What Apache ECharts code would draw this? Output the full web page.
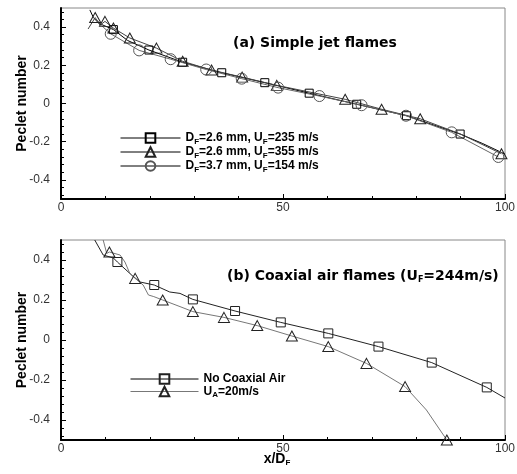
<!DOCTYPE html>
<html>
<head>
<meta charset="utf-8">
<script src="https://cdn.jsdelivr.net/npm/echarts@6/dist/echarts.min.js"></script>
<style>
  html, body { margin: 0; padding: 0; background: #fff; }
  #chart { width: 517px; height: 474px; }
</style>
</head>
<body>
<div id="chart"></div>
<script>
// points are [x/D_F, Peclet number]
// (a) simple jet flames
const jet235Curve = [[6.5, 0.49], [7.3, 0.45], [8.5, 0.42], [11.8, 0.387], [15, 0.33], [19.8, 0.28], [27.4, 0.216], [36.2, 0.161], [45.9, 0.109], [55.9, 0.054], [66.6, -0.004], [77.8, -0.064], [89.9, -0.16], [95, -0.21], [100, -0.265]]
const jet235Marks = [[11.8, 0.387], [19.8, 0.28], [27.4, 0.216], [36.2, 0.161], [45.9, 0.109], [55.9, 0.054], [66.6, -0.004], [77.8, -0.064], [89.9, -0.16]]

const jet355Curve = [[6.1, 0.39], [7.7, 0.45], [8.8, 0.41], [9.9, 0.43], [11.8, 0.395], [15.5, 0.343], [21.5, 0.29], [27.4, 0.221], [33.9, 0.175], [40.8, 0.138], [48.6, 0.095], [64, 0.022], [72.2, -0.03], [80.9, -0.08], [90, -0.16], [99.2, -0.263]]
const jet355Marks = [[7.7, 0.45], [9.9, 0.43], [11.8, 0.395], [15.5, 0.343], [21.5, 0.29], [27.4, 0.221], [33.9, 0.175], [40.8, 0.138], [48.6, 0.095], [64, 0.022], [72.2, -0.03], [80.9, -0.08], [99.2, -0.263]]

const jet154Curve = [[8, 0.44], [9.5, 0.4], [11.2, 0.365], [17.6, 0.278], [24.7, 0.232], [32.7, 0.178], [40.7, 0.13], [48.9, 0.083], [58.2, 0.039], [67.7, -0.009], [77.7, -0.064], [88, -0.151], [98.5, -0.28]]
const jet154Marks = [[11.2, 0.365], [17.6, 0.278], [24.7, 0.232], [32.7, 0.178], [40.7, 0.13], [48.9, 0.083], [58.2, 0.039], [67.7, -0.009], [77.7, -0.064], [88, -0.151], [98.5, -0.28]]

// (b) coaxial air flames
const noAirCurve = [[7.6, 0.5], [9.5, 0.425], [11.8, 0.41], [12.7, 0.39], [15.9, 0.325], [17.8, 0.29], [21, 0.275], [24.5, 0.24], [26.8, 0.233], [29.7, 0.203], [39.2, 0.145], [49.5, 0.088], [60.2, 0.033], [71.5, -0.033], [83.5, -0.113], [95.9, -0.237], [100, -0.29]]
const noAirMarks = [[12.7, 0.39], [21, 0.275], [29.7, 0.203], [39.2, 0.145], [49.5, 0.088], [60.2, 0.033], [71.5, -0.033], [83.5, -0.113], [95.9, -0.237]]

const air20Curve = [[9.5, 0.5], [10.3, 0.433], [10.9, 0.44], [13.3, 0.425], [14.4, 0.39], [15.5, 0.333], [16.7, 0.308], [18.5, 0.275], [19.7, 0.225], [20.9, 0.217], [22.9, 0.2], [26.8, 0.167], [29.7, 0.142], [36.7, 0.113], [44.2, 0.072], [52, 0.02], [60.2, -0.033], [68.8, -0.117], [77.5, -0.233], [82.3, -0.35], [86.9, -0.5]]
const air20Marks = [[10.9, 0.44], [16.7, 0.308], [22.9, 0.2], [29.7, 0.142], [36.7, 0.113], [44.2, 0.072], [52, 0.02], [60.2, -0.033], [68.8, -0.117], [77.5, -0.233], [86.9, -0.5]]

const xTicks = [0, 50, 100]
const yLabels = [-0.4, -0.2, 0, 0.2, 0.4]

const FONT = '"Liberation Sans", Arial, Helvetica, sans-serif'
const WIDE = '"DejaVu Sans", Verdana, sans-serif'
const sub = { fontFamily: FONT, fontSize: 8, fontWeight: 'bold', padding: [7, 0, 0, 0] }

// minor ticks on y every 0.04 between the labelled values
const yMinor = []
for (let i = -12; i <= 12; i++) yMinor.push(+(i * 0.04).toFixed(2))

const chart = echarts.init(document.getElementById('chart'))

const makeX = (g, withName) => ({
  type: 'value',
  gridIndex: g,
  min: xTicks[0],
  max: xTicks[xTicks.length - 1],
  interval: xTicks[1] - xTicks[0],
  axisLine: { onZero: false, lineStyle: { color: '#000', width: 2 } },
  axisTick: { inside: true, length: 5, lineStyle: { color: '#000' } },
  minorTick: { show: true, splitNumber: 5, length: 3, lineStyle: { color: '#000' } },
  splitLine: { show: false },
  axisLabel: { color: '#333', fontSize: 12, fontFamily: FONT, margin: 3 },
  name: withName ? 'x/D{s|F}' : '',
  nameLocation: 'middle',
  nameMoveOverlap: false,
  nameGap: 12,
  nameTextStyle: { color: '#000', fontSize: 14, fontWeight: 'bold', fontFamily: FONT, padding: [0, 12, 0, 0], rich: { s: sub } },
})

const makeY = (g) => ({
  type: 'value',
  gridIndex: g,
  min: -0.5,
  max: 0.5,
  axisLine: { show: true, onZero: false, lineStyle: { color: '#000', width: 2 } },
  axisTick: { inside: true, length: 5, customValues: yLabels, lineStyle: { color: '#000' } },
  splitLine: { show: false },
  axisLabel: { customValues: yLabels, color: '#333', fontSize: 12, fontFamily: FONT, margin: 11 },
  name: 'Peclet number',
  nameLocation: 'middle',
  nameMoveOverlap: false,
  nameRotate: 90,
  nameGap: 32,
  nameTextStyle: { color: '#000', fontSize: 14, fontWeight: 'bold', fontFamily: FONT },
})

const makeYMinor = (g) => ({
  type: 'value',
  gridIndex: g,
  position: 'left',
  min: -0.5,
  max: 0.5,
  axisLine: { show: false, onZero: false },
  axisTick: { inside: true, length: 3, customValues: yMinor, lineStyle: { color: '#000' } },
  splitLine: { show: false },
  axisLabel: { show: false },
})

const curve = (g, data, color) => ({
  type: 'line',
  xAxisIndex: g,
  yAxisIndex: g * 2,
  data,
  symbol: 'none',
  lineStyle: { color, width: 1 },
  silent: true,
  z: 2,
})

const marks = (g, name, data, symbol, size, color) => ({
  type: 'line',
  name,
  xAxisIndex: g,
  yAxisIndex: g * 2,
  data,
  symbol,
  symbolSize: size,
  showSymbol: true,
  lineStyle: { width: 0, opacity: 0 },
  itemStyle: { color: 'rgba(0,0,0,0)', borderColor: color, borderWidth: 1 },
  silent: true,
  z: 3,
})

const legendText = () => ({
  fontFamily: FONT, fontSize: 12, fontWeight: 'bold', color: '#000', rich: { s: sub },
})
const subFormat = (name) => name.replace(/_(\w)/g, '{s|$1}')
const titleSub = { fontFamily: WIDE, fontSize: 8, fontWeight: 'bold', padding: [8, 0, 0, 0] }

const option = {
  backgroundColor: '#fff',
  animation: false,
  title: [
    { text: '(a) Simple jet flames', left: 233, top: 36, padding: 0, textStyle: { fontFamily: WIDE, fontSize: 14, fontWeight: 'bold', color: '#000' } },
    { text: '(b) Coaxial air flames (U{s|F}=244m/s)', left: 227, top: 268, padding: 0, textStyle: { fontFamily: WIDE, fontSize: 14, fontWeight: 'bold', color: '#000', rich: { s: titleSub } } },
  ],
  grid: [
    { left: 61, width: 444, top: 8, height: 191, outerBoundsMode: 'none', show: true, borderColor: '#888', borderWidth: 1, backgroundColor: 'transparent' },
    { left: 61, width: 444, top: 240, height: 200, outerBoundsMode: 'none', show: true, borderColor: '#888', borderWidth: 1, backgroundColor: 'transparent' },
  ],
  xAxis: [makeX(0, false), makeX(1, true)],
  yAxis: [makeY(0), makeYMinor(0), makeY(1), makeYMinor(1)],
  legend: [
    {
      orient: 'vertical', left: 120, top: 132, padding: 0, itemWidth: 60, itemHeight: 12, itemGap: 0.5,
      selectedMode: false,
      textStyle: legendText(),
      formatter: subFormat,
      data: [
        { name: 'D_F=2.6 mm, U_F=235 m/s', lineStyle: { color: '#000', width: 1, opacity: 1 } },
        { name: 'D_F=2.6 mm, U_F=355 m/s', lineStyle: { color: '#000', width: 1, opacity: 1 } },
        { name: 'D_F=3.7 mm, U_F=154 m/s', lineStyle: { color: '#000', width: 1, opacity: 1 } },
      ],
    },
    {
      orient: 'vertical', left: 130, top: 373, padding: 0, itemWidth: 68, itemHeight: 12, itemGap: 0.5,
      selectedMode: false,
      textStyle: legendText(),
      formatter: subFormat,
      data: [
        { name: 'No Coaxial Air', lineStyle: { color: '#000', width: 1, opacity: 1 } },
        { name: 'U_A=20m/s', lineStyle: { color: '#777', width: 1, opacity: 1 } },
      ],
    },
  ],
  series: [
    curve(0, jet235Curve, '#000'),
    curve(0, jet355Curve, '#444'),
    curve(0, jet154Curve, '#666'),
    marks(0, 'D_F=2.6 mm, U_F=235 m/s', jet235Marks, 'rect', 8, '#000'),
    marks(0, 'D_F=2.6 mm, U_F=355 m/s', jet355Marks, 'triangle', [11, 10], '#222'),
    marks(0, 'D_F=3.7 mm, U_F=154 m/s', jet154Marks, 'circle', 11, '#555'),
    curve(1, noAirCurve, '#222'),
    curve(1, air20Curve, '#777'),
    marks(1, 'No Coaxial Air', noAirMarks, 'rect', 9, '#222'),
    marks(1, 'U_A=20m/s', air20Marks, 'triangle', [11, 10], '#222'),
  ],
}

chart.setOption(option)
</script>
</body>
</html>
